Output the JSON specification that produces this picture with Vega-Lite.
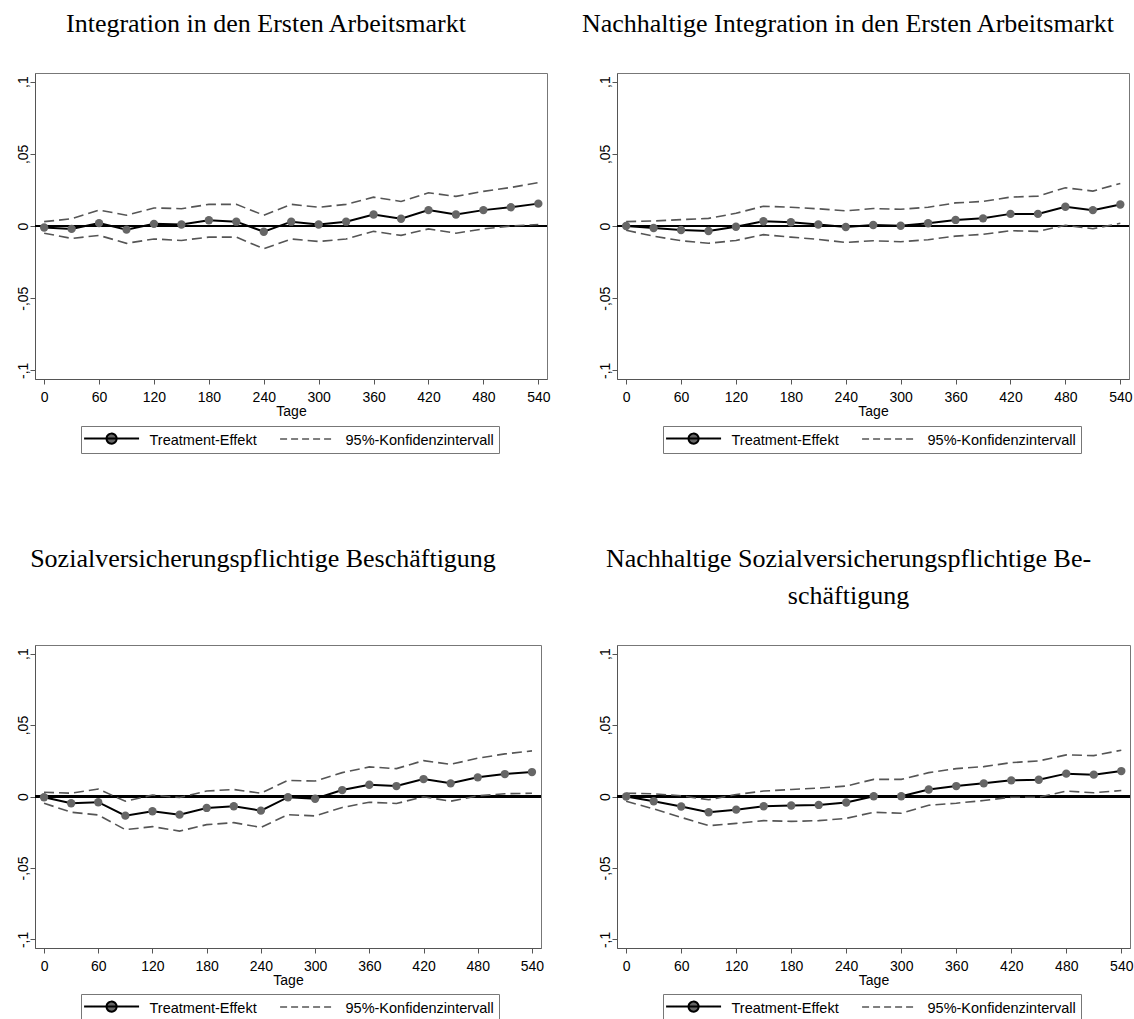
{
  "$schema": "https://vega.github.io/schema/vega-lite/v6.json",
  "background": "white",
  "padding": {"left": 15, "top": 10, "right": 0, "bottom": 0},
  "columns": 2,
  "spacing": {"row": 266, "column": 70},
  "bounds": "flush",
  "datasets": {
    "tl": [
      {"tage": 0, "effekt": -0.001, "oben": 0.003, "unten": -0.005},
      {"tage": 30, "effekt": -0.002, "oben": 0.005, "unten": -0.0086},
      {"tage": 60, "effekt": 0.002, "oben": 0.011, "unten": -0.0065},
      {"tage": 90, "effekt": -0.0025, "oben": 0.0075, "unten": -0.012},
      {"tage": 120, "effekt": 0.0015, "oben": 0.0125, "unten": -0.009},
      {"tage": 150, "effekt": 0.001, "oben": 0.012, "unten": -0.01},
      {"tage": 180, "effekt": 0.004, "oben": 0.015, "unten": -0.0077},
      {"tage": 210, "effekt": 0.003, "oben": 0.015, "unten": -0.0077},
      {"tage": 240, "effekt": -0.004, "oben": 0.0075, "unten": -0.0158},
      {"tage": 270, "effekt": 0.003, "oben": 0.015, "unten": -0.009},
      {"tage": 300, "effekt": 0.001, "oben": 0.013, "unten": -0.0107},
      {"tage": 330, "effekt": 0.003, "oben": 0.015, "unten": -0.009},
      {"tage": 360, "effekt": 0.008, "oben": 0.02, "unten": -0.0037},
      {"tage": 390, "effekt": 0.005, "oben": 0.017, "unten": -0.0065},
      {"tage": 420, "effekt": 0.011, "oben": 0.023, "unten": -0.002},
      {"tage": 450, "effekt": 0.008, "oben": 0.0205, "unten": -0.005},
      {"tage": 480, "effekt": 0.011, "oben": 0.024, "unten": -0.002},
      {"tage": 510, "effekt": 0.013, "oben": 0.0267, "unten": 0},
      {"tage": 540, "effekt": 0.0155, "oben": 0.03, "unten": 0.001}
    ],
    "tr": [
      {"tage": 0, "effekt": 0, "oben": 0.003, "unten": -0.003},
      {"tage": 30, "effekt": -0.0014, "oben": 0.0035, "unten": -0.007},
      {"tage": 60, "effekt": -0.0028, "oben": 0.0044, "unten": -0.0102},
      {"tage": 90, "effekt": -0.0035, "oben": 0.0053, "unten": -0.012},
      {"tage": 120, "effekt": -0.0005, "oben": 0.0088, "unten": -0.01},
      {"tage": 150, "effekt": 0.0033, "oben": 0.0137, "unten": -0.006},
      {"tage": 180, "effekt": 0.0026, "oben": 0.013, "unten": -0.0077},
      {"tage": 210, "effekt": 0.001, "oben": 0.0119, "unten": -0.0093},
      {"tage": 240, "effekt": -0.0007, "oben": 0.0105, "unten": -0.0114},
      {"tage": 270, "effekt": 0.0007, "oben": 0.0121, "unten": -0.0102},
      {"tage": 300, "effekt": 0.0002, "oben": 0.0116, "unten": -0.0109},
      {"tage": 330, "effekt": 0.0019, "oben": 0.013, "unten": -0.0095},
      {"tage": 360, "effekt": 0.0042, "oben": 0.016, "unten": -0.007},
      {"tage": 390, "effekt": 0.0053, "oben": 0.017, "unten": -0.0058},
      {"tage": 420, "effekt": 0.0084, "oben": 0.02, "unten": -0.0033},
      {"tage": 450, "effekt": 0.0084, "oben": 0.0207, "unten": -0.0037},
      {"tage": 480, "effekt": 0.0133, "oben": 0.0265, "unten": 0.0005},
      {"tage": 510, "effekt": 0.011, "oben": 0.0242, "unten": -0.0019},
      {"tage": 540, "effekt": 0.0149, "oben": 0.0295, "unten": 0.0019}
    ],
    "bl": [
      {"tage": 0, "effekt": -0.0005, "oben": 0.003, "unten": -0.0047},
      {"tage": 30, "effekt": -0.0047, "oben": 0.0023, "unten": -0.011},
      {"tage": 60, "effekt": -0.004, "oben": 0.0052, "unten": -0.0129},
      {"tage": 90, "effekt": -0.0134, "oben": -0.0033, "unten": -0.0232},
      {"tage": 120, "effekt": -0.0103, "oben": 0.001, "unten": -0.0211},
      {"tage": 150, "effekt": -0.0127, "oben": -0.0007, "unten": -0.0242},
      {"tage": 180, "effekt": -0.008, "oben": 0.0038, "unten": -0.0197},
      {"tage": 210, "effekt": -0.0068, "oben": 0.0049, "unten": -0.0183},
      {"tage": 240, "effekt": -0.0099, "oben": 0.0023, "unten": -0.0216},
      {"tage": 270, "effekt": -0.0005, "oben": 0.0113, "unten": -0.0127},
      {"tage": 300, "effekt": -0.0016, "oben": 0.0108, "unten": -0.0136},
      {"tage": 330, "effekt": 0.0045, "oben": 0.0167, "unten": -0.0077},
      {"tage": 360, "effekt": 0.0082, "oben": 0.0207, "unten": -0.004},
      {"tage": 390, "effekt": 0.0073, "oben": 0.0195, "unten": -0.0049},
      {"tage": 420, "effekt": 0.0122, "oben": 0.0251, "unten": -0.0002},
      {"tage": 450, "effekt": 0.0092, "oben": 0.0225, "unten": -0.0033},
      {"tage": 480, "effekt": 0.0134, "oben": 0.0268, "unten": 0.0005},
      {"tage": 510, "effekt": 0.0157, "oben": 0.0298, "unten": 0.0019},
      {"tage": 540, "effekt": 0.0171, "oben": 0.0319, "unten": 0.0023}
    ],
    "br": [
      {"tage": 0, "effekt": 0, "oben": 0.0023, "unten": -0.0033},
      {"tage": 30, "effekt": -0.0033, "oben": 0.0019, "unten": -0.0087},
      {"tage": 60, "effekt": -0.007, "oben": 0.0005, "unten": -0.0146},
      {"tage": 90, "effekt": -0.011, "oben": -0.0023, "unten": -0.0204},
      {"tage": 120, "effekt": -0.0092, "oben": 0.0014, "unten": -0.0188},
      {"tage": 150, "effekt": -0.0068, "oben": 0.0038, "unten": -0.0169},
      {"tage": 180, "effekt": -0.0063, "oben": 0.0049, "unten": -0.0174},
      {"tage": 210, "effekt": -0.0059, "oben": 0.0059, "unten": -0.0169},
      {"tage": 240, "effekt": -0.0042, "oben": 0.0073, "unten": -0.0153},
      {"tage": 270, "effekt": 0.0002, "oben": 0.012, "unten": -0.011},
      {"tage": 300, "effekt": 0.0002, "oben": 0.012, "unten": -0.0117},
      {"tage": 330, "effekt": 0.0049, "oben": 0.0167, "unten": -0.0061},
      {"tage": 360, "effekt": 0.0073, "oben": 0.0195, "unten": -0.0047},
      {"tage": 390, "effekt": 0.0092, "oben": 0.0209, "unten": -0.0028},
      {"tage": 420, "effekt": 0.0113, "oben": 0.0237, "unten": -0.0005},
      {"tage": 450, "effekt": 0.0117, "oben": 0.0249, "unten": -0.0005},
      {"tage": 480, "effekt": 0.016, "oben": 0.0291, "unten": 0.0038},
      {"tage": 510, "effekt": 0.0153, "oben": 0.0286, "unten": 0.0026},
      {"tage": 540, "effekt": 0.0178, "oben": 0.0324, "unten": 0.0042}
    ]
  },
  "concat": [
    {
      "width": 512, "height": 306,
      "title": {"text": "Integration in den Ersten Arbeitsmarkt", "offset": 36},
      "data": {"name": "tl"},
      "layer": [
        {"mark": {"type": "rule", "color": "#000", "strokeWidth": 1.5}, "encoding": {"y": {"datum": 0, "type": "quantitative", "scale": {"domain": [-0.106, 0.106], "nice": false, "zero": false}, "axis": {"values": [-0.1, -0.05, 0, 0.05, 0.1], "title": null, "labelAngle": 270, "labelAlign": "center", "labelBaseline": "bottom", "labelPadding": 0, "labelExpr": "datum.value == 0 ? '0' : (datum.value < 0 ? '-' : '') + replace(format(abs(datum.value), '.2~f'), '0.', ',')"}}}},
        {"mark": {"type": "line", "strokeDash": [10, 5], "strokeWidth": 1.6}, "encoding": {"x": {"field": "tage", "type": "quantitative", "scale": {"domain": [-10, 549.5], "nice": false, "zero": false}, "axis": {"values": [0, 60, 120, 180, 240, 300, 360, 420, 480, 540], "title": "Tage", "labelPadding": 6, "titlePadding": 0}}, "y": {"field": "oben", "type": "quantitative"}, "color": {"datum": "95%-Konfidenzintervall"}}},
        {"mark": {"type": "line", "strokeDash": [10, 5], "strokeWidth": 1.6}, "encoding": {"x": {"field": "tage", "type": "quantitative"}, "y": {"field": "unten", "type": "quantitative"}, "color": {"datum": "95%-Konfidenzintervall"}}},
        {"mark": {"type": "line", "strokeWidth": 2}, "encoding": {"x": {"field": "tage", "type": "quantitative"}, "y": {"field": "effekt", "type": "quantitative"}, "color": {"datum": "Treatment-Effekt", "scale": {"domain": ["Treatment-Effekt", "95%-Konfidenzintervall"], "range": ["#000000", "#555555"]},
          "legend": {"orient": "none", "legendX": 46, "legendY": 353, "direction": "horizontal", "title": null, "symbolType": "M-1,0H5", "symbolSize": 336, "labelOffset": 49, "columnPadding": 20, "padding": 5, "strokeColor": "#777777", "fillColor": "#ffffff", "labelFont": "Liberation Sans", "labelFontSize": 14.5, "labelColor": "#000000", "labelLimit": 300, "labelBaseline": "middle",
            "encode": {"labels": {"update": {"dy": {"value": 2}}}, "symbols": {"update": {
              "shape": {"signal": "datum.value === 'Treatment-Effekt' ? 'M-1,0H5M1.45,0A0.55,0.55,0,1,1,2.55,0A0.55,0.55,0,1,1,1.45,0Z' : 'M-1,0H5'"},
              "fill": {"signal": "datum.value === 'Treatment-Effekt' ? '#666666' : 'transparent'"},
              "stroke": {"signal": "datum.value === 'Treatment-Effekt' ? '#000000' : '#555555'"},
              "strokeDash": {"signal": "datum.value === 'Treatment-Effekt' ? [1, 0] : [7, 4]"},
              "strokeWidth": {"signal": "datum.value === 'Treatment-Effekt' ? 2 : 1.5"},
              "opacity": {"value": 1}}}}}}}},
        {"mark": {"type": "point", "filled": true, "color": "#666666", "opacity": 1, "size": 70}, "encoding": {"x": {"field": "tage", "type": "quantitative"}, "y": {"field": "effekt", "type": "quantitative"}}}
      ]
    },
    {
      "width": 512, "height": 306,
      "title": {"text": "Nachhaltige Integration in den Ersten Arbeitsmarkt", "offset": 36},
      "data": {"name": "tr"},
      "layer": [
        {"mark": {"type": "rule", "color": "#000", "strokeWidth": 1.5}, "encoding": {"y": {"datum": 0, "type": "quantitative", "scale": {"domain": [-0.106, 0.106], "nice": false, "zero": false}, "axis": {"values": [-0.1, -0.05, 0, 0.05, 0.1], "title": null, "labelAngle": 270, "labelAlign": "center", "labelBaseline": "bottom", "labelPadding": 0, "labelExpr": "datum.value == 0 ? '0' : (datum.value < 0 ? '-' : '') + replace(format(abs(datum.value), '.2~f'), '0.', ',')"}}}},
        {"mark": {"type": "line", "strokeDash": [10, 5], "strokeWidth": 1.6}, "encoding": {"x": {"field": "tage", "type": "quantitative", "scale": {"domain": [-10, 549.5], "nice": false, "zero": false}, "axis": {"values": [0, 60, 120, 180, 240, 300, 360, 420, 480, 540], "title": "Tage", "labelPadding": 6, "titlePadding": 0}}, "y": {"field": "oben", "type": "quantitative"}, "color": {"datum": "95%-Konfidenzintervall"}}},
        {"mark": {"type": "line", "strokeDash": [10, 5], "strokeWidth": 1.6}, "encoding": {"x": {"field": "tage", "type": "quantitative"}, "y": {"field": "unten", "type": "quantitative"}, "color": {"datum": "95%-Konfidenzintervall"}}},
        {"mark": {"type": "line", "strokeWidth": 2}, "encoding": {"x": {"field": "tage", "type": "quantitative"}, "y": {"field": "effekt", "type": "quantitative"}, "color": {"datum": "Treatment-Effekt", "scale": {"domain": ["Treatment-Effekt", "95%-Konfidenzintervall"], "range": ["#000000", "#555555"]},
          "legend": {"orient": "none", "legendX": 46, "legendY": 353, "direction": "horizontal", "title": null, "symbolType": "M-1,0H5", "symbolSize": 336, "labelOffset": 49, "columnPadding": 20, "padding": 5, "strokeColor": "#777777", "fillColor": "#ffffff", "labelFont": "Liberation Sans", "labelFontSize": 14.5, "labelColor": "#000000", "labelLimit": 300, "labelBaseline": "middle",
            "encode": {"labels": {"update": {"dy": {"value": 2}}}, "symbols": {"update": {
              "shape": {"signal": "datum.value === 'Treatment-Effekt' ? 'M-1,0H5M1.45,0A0.55,0.55,0,1,1,2.55,0A0.55,0.55,0,1,1,1.45,0Z' : 'M-1,0H5'"},
              "fill": {"signal": "datum.value === 'Treatment-Effekt' ? '#666666' : 'transparent'"},
              "stroke": {"signal": "datum.value === 'Treatment-Effekt' ? '#000000' : '#555555'"},
              "strokeDash": {"signal": "datum.value === 'Treatment-Effekt' ? [1, 0] : [7, 4]"},
              "strokeWidth": {"signal": "datum.value === 'Treatment-Effekt' ? 2 : 1.5"},
              "opacity": {"value": 1}}}}}}}},
        {"mark": {"type": "point", "filled": true, "color": "#666666", "opacity": 1, "size": 70}, "encoding": {"x": {"field": "tage", "type": "quantitative"}, "y": {"field": "effekt", "type": "quantitative"}}}
      ]
    },
    {
      "width": 506, "height": 303,
      "title": {"text": "Sozialversicherungspflichtige Beschäftigung", "offset": 73},
      "data": {"name": "bl"},
      "layer": [
        {"mark": {"type": "rule", "color": "#000", "strokeWidth": 1.5}, "encoding": {"y": {"datum": 0, "type": "quantitative", "scale": {"domain": [-0.106, 0.106], "nice": false, "zero": false}, "axis": {"values": [-0.1, -0.05, 0, 0.05, 0.1], "title": null, "labelAngle": 270, "labelAlign": "center", "labelBaseline": "bottom", "labelPadding": 0, "labelExpr": "datum.value == 0 ? '0' : (datum.value < 0 ? '-' : '') + replace(format(abs(datum.value), '.2~f'), '0.', ',')"}}}},
        {"mark": {"type": "line", "strokeDash": [10, 5], "strokeWidth": 1.6}, "encoding": {"x": {"field": "tage", "type": "quantitative", "scale": {"domain": [-10, 550], "nice": false, "zero": false}, "axis": {"values": [0, 60, 120, 180, 240, 300, 360, 420, 480, 540], "title": "Tage", "labelPadding": 6, "titlePadding": 0}}, "y": {"field": "oben", "type": "quantitative"}, "color": {"datum": "95%-Konfidenzintervall"}}},
        {"mark": {"type": "line", "strokeDash": [10, 5], "strokeWidth": 1.6}, "encoding": {"x": {"field": "tage", "type": "quantitative"}, "y": {"field": "unten", "type": "quantitative"}, "color": {"datum": "95%-Konfidenzintervall"}}},
        {"mark": {"type": "line", "strokeWidth": 2}, "encoding": {"x": {"field": "tage", "type": "quantitative"}, "y": {"field": "effekt", "type": "quantitative"}, "color": {"datum": "Treatment-Effekt", "scale": {"domain": ["Treatment-Effekt", "95%-Konfidenzintervall"], "range": ["#000000", "#555555"]},
          "legend": {"orient": "none", "legendX": 46, "legendY": 349, "direction": "horizontal", "title": null, "symbolType": "M-1,0H5", "symbolSize": 336, "labelOffset": 49, "columnPadding": 20, "padding": 5, "strokeColor": "#777777", "fillColor": "#ffffff", "labelFont": "Liberation Sans", "labelFontSize": 14.5, "labelColor": "#000000", "labelLimit": 300, "labelBaseline": "middle",
            "encode": {"labels": {"update": {"dy": {"value": 2}}}, "symbols": {"update": {
              "shape": {"signal": "datum.value === 'Treatment-Effekt' ? 'M-1,0H5M1.45,0A0.55,0.55,0,1,1,2.55,0A0.55,0.55,0,1,1,1.45,0Z' : 'M-1,0H5'"},
              "fill": {"signal": "datum.value === 'Treatment-Effekt' ? '#666666' : 'transparent'"},
              "stroke": {"signal": "datum.value === 'Treatment-Effekt' ? '#000000' : '#555555'"},
              "strokeDash": {"signal": "datum.value === 'Treatment-Effekt' ? [1, 0] : [7, 4]"},
              "strokeWidth": {"signal": "datum.value === 'Treatment-Effekt' ? 2 : 1.5"},
              "opacity": {"value": 1}}}}}}}},
        {"mark": {"type": "point", "filled": true, "color": "#666666", "opacity": 1, "size": 70}, "encoding": {"x": {"field": "tage", "type": "quantitative"}, "y": {"field": "effekt", "type": "quantitative"}}}
      ]
    },
    {
      "width": 513, "height": 303,
      "title": {"text": ["Nachhaltige Sozialversicherungspflichtige Be-", "schäftigung"], "offset": 36},
      "data": {"name": "br"},
      "layer": [
        {"mark": {"type": "rule", "color": "#000", "strokeWidth": 1.5}, "encoding": {"y": {"datum": 0, "type": "quantitative", "scale": {"domain": [-0.106, 0.106], "nice": false, "zero": false}, "axis": {"values": [-0.1, -0.05, 0, 0.05, 0.1], "title": null, "labelAngle": 270, "labelAlign": "center", "labelBaseline": "bottom", "labelPadding": 0, "labelExpr": "datum.value == 0 ? '0' : (datum.value < 0 ? '-' : '') + replace(format(abs(datum.value), '.2~f'), '0.', ',')"}}}},
        {"mark": {"type": "line", "strokeDash": [10, 5], "strokeWidth": 1.6}, "encoding": {"x": {"field": "tage", "type": "quantitative", "scale": {"domain": [-10, 549.5], "nice": false, "zero": false}, "axis": {"values": [0, 60, 120, 180, 240, 300, 360, 420, 480, 540], "title": "Tage", "labelPadding": 6, "titlePadding": 0}}, "y": {"field": "oben", "type": "quantitative"}, "color": {"datum": "95%-Konfidenzintervall"}}},
        {"mark": {"type": "line", "strokeDash": [10, 5], "strokeWidth": 1.6}, "encoding": {"x": {"field": "tage", "type": "quantitative"}, "y": {"field": "unten", "type": "quantitative"}, "color": {"datum": "95%-Konfidenzintervall"}}},
        {"mark": {"type": "line", "strokeWidth": 2}, "encoding": {"x": {"field": "tage", "type": "quantitative"}, "y": {"field": "effekt", "type": "quantitative"}, "color": {"datum": "Treatment-Effekt", "scale": {"domain": ["Treatment-Effekt", "95%-Konfidenzintervall"], "range": ["#000000", "#555555"]},
          "legend": {"orient": "none", "legendX": 46, "legendY": 349, "direction": "horizontal", "title": null, "symbolType": "M-1,0H5", "symbolSize": 336, "labelOffset": 49, "columnPadding": 20, "padding": 5, "strokeColor": "#777777", "fillColor": "#ffffff", "labelFont": "Liberation Sans", "labelFontSize": 14.5, "labelColor": "#000000", "labelLimit": 300, "labelBaseline": "middle",
            "encode": {"labels": {"update": {"dy": {"value": 2}}}, "symbols": {"update": {
              "shape": {"signal": "datum.value === 'Treatment-Effekt' ? 'M-1,0H5M1.45,0A0.55,0.55,0,1,1,2.55,0A0.55,0.55,0,1,1,1.45,0Z' : 'M-1,0H5'"},
              "fill": {"signal": "datum.value === 'Treatment-Effekt' ? '#666666' : 'transparent'"},
              "stroke": {"signal": "datum.value === 'Treatment-Effekt' ? '#000000' : '#555555'"},
              "strokeDash": {"signal": "datum.value === 'Treatment-Effekt' ? [1, 0] : [7, 4]"},
              "strokeWidth": {"signal": "datum.value === 'Treatment-Effekt' ? 2 : 1.5"},
              "opacity": {"value": 1}}}}}}}},
        {"mark": {"type": "point", "filled": true, "color": "#666666", "opacity": 1, "size": 70}, "encoding": {"x": {"field": "tage", "type": "quantitative"}, "y": {"field": "effekt", "type": "quantitative"}}}
      ]
    }
  ],
  "resolve": {"scale": {"color": "independent", "x": "independent", "y": "independent"}, "legend": {"color": "independent"}},
  "config": {
    "view": {"stroke": "#777777", "strokeWidth": 1},
    "axis": {"labelFont": "Liberation Sans", "labelFontSize": 14, "labelColor": "#000000", "titleFont": "Liberation Sans", "titleFontSize": 14, "titleFontWeight": "normal", "titleColor": "#000000", "domainColor": "#555555", "tickColor": "#555555", "tickSize": 5, "grid": false, "labelFlush": false, "labelOverlap": false},
    "title": {"font": "Liberation Serif", "fontSize": 26, "fontWeight": "normal", "color": "#000000", "anchor": "middle", "baseline": "alphabetic", "lineHeight": 37, "dx": -25}
  }
}
